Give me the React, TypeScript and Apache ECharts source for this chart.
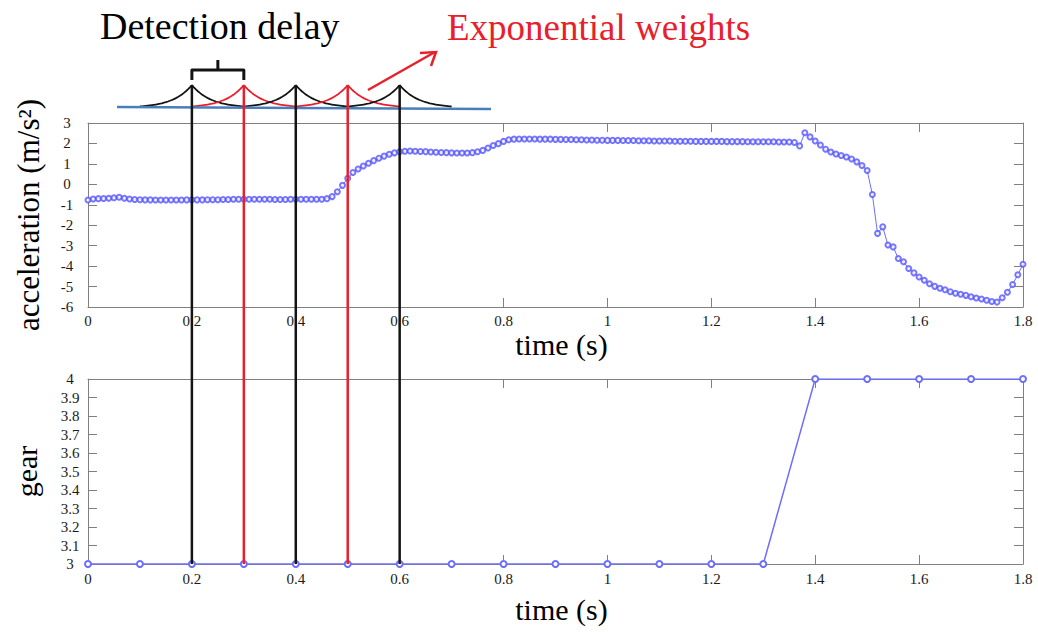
import React, { useEffect, useRef } from 'react';
import * as echarts from 'echarts';

// ---------- data ----------
const ACC_START = 0; // s
const ACC_STEP = 0.01; // s, sampling interval
const accValues = [
  -0.77, -0.72, -0.7, -0.69, -0.68, -0.66, -0.63, -0.68, -0.72, -0.74,
  -0.75, -0.76, -0.76, -0.77, -0.77, -0.77, -0.77, -0.77, -0.77, -0.76,
  -0.76, -0.76, -0.76, -0.75, -0.75, -0.75, -0.74, -0.74, -0.73, -0.73,
  -0.73, -0.73, -0.73, -0.73, -0.73, -0.73, -0.74, -0.74, -0.74, -0.73,
  -0.73, -0.73, -0.73, -0.73, -0.73, -0.73, -0.7, -0.6, -0.36, -0.05,
  0.3, 0.58, 0.75, 0.9, 1.03, 1.16, 1.28, 1.38, 1.47, 1.54,
  1.59, 1.62, 1.63, 1.62, 1.61, 1.6, 1.58, 1.57, 1.56, 1.55,
  1.54, 1.53, 1.53, 1.53, 1.55, 1.59, 1.66, 1.78, 1.9, 1.99,
  2.1, 2.18, 2.21, 2.22, 2.22, 2.22, 2.22, 2.21, 2.21, 2.21,
  2.2, 2.2, 2.19, 2.19, 2.18, 2.18, 2.17, 2.17, 2.16, 2.16,
  2.15, 2.15, 2.15, 2.14, 2.14, 2.14, 2.13, 2.13, 2.13, 2.12,
  2.12, 2.12, 2.12, 2.11, 2.11, 2.11, 2.11, 2.1, 2.1, 2.1,
  2.1, 2.1, 2.1, 2.09, 2.09, 2.09, 2.09, 2.08, 2.08, 2.08,
  2.08, 2.08, 2.08, 2.07, 2.07, 2.07, 2.05, 1.88, 2.52, 2.32,
  2.12, 1.92, 1.72, 1.58, 1.48, 1.41, 1.34, 1.24, 1.1, 0.92,
  0.68, -0.5, -2.4, -2.08, -2.97, -3.06, -3.63, -3.79, -4.12, -4.33,
  -4.53, -4.69, -4.86, -4.99, -5.08, -5.16, -5.25, -5.33, -5.38, -5.43,
  -5.5, -5.56, -5.61, -5.67, -5.73, -5.76, -5.55, -5.28, -4.9, -4.42,
  -3.91,
];

const gearTimes = [0, 0.1, 0.2, 0.3, 0.4, 0.5, 0.6, 0.7, 0.8, 0.9, 1.0, 1.1, 1.2, 1.3, 1.4, 1.5, 1.6, 1.7, 1.8];
const gearValues = [3, 3, 3, 3, 3, 3, 3, 3, 3, 3, 3, 3, 3, 3, 4, 4, 4, 4, 4];

const timeMin = 0;
const timeMax = 1.8;
const timeInterval = 0.2;
const accMin = -6;
const accMax = 3;
const accInterval = 1;
const gearMin = 3;
const gearMax = 4;
const gearInterval = 0.1;

const markerTimes = [0.2, 0.3, 0.4, 0.5, 0.6];
const markerKinds = ['black', 'red', 'black', 'red', 'black'];

const titleDelay = 'Detection delay';
const titleWeights = 'Exponential weights';

// ---------- style ----------
const FONT = 'Liberation Serif';
const GRAY = '#808080';
const RED = '#e8202c';
const BLACK = '#141414';
const BLUE_LINE = '#5555ff';
const BASE_BLUE = '#4a7ebb';

function xAxisDef(gridIndex: number, position: 'top' | 'bottom', opts: any = {}) {
  return {
    type: 'value',
    gridIndex,
    position,
    min: timeMin,
    max: timeMax,
    interval: timeInterval,
    axisLine: { show: true, onZero: false, lineStyle: { color: GRAY, width: 1 } },
    axisTick: { show: true, inside: true, length: 9, lineStyle: { color: GRAY } },
    splitLine: { show: false },
    axisLabel: {
      show: position === 'bottom',
      color: '#1a1a1a',
      fontFamily: FONT,
      fontSize: 15,
      margin: opts.labelMargin ?? 7,
    },
    name: opts.name,
    nameLocation: 'middle',
    nameGap: opts.nameGap,
    nameTextStyle: {
      fontFamily: FONT,
      fontSize: 30,
      color: '#000',
      padding: [0, 0, 0, 12],
    },
  };
}

function yAxisDef(gridIndex: number, position: 'left' | 'right', min: number, max: number, interval: number, opts: any = {}) {
  return {
    type: 'value',
    gridIndex,
    position,
    min,
    max,
    interval,
    axisLine: { show: true, onZero: false, lineStyle: { color: GRAY, width: 1 } },
    axisTick: { show: true, inside: true, length: 9, lineStyle: { color: GRAY } },
    splitLine: { show: false },
    axisLabel: {
      show: position === 'left',
      color: '#1a1a1a',
      fontFamily: FONT,
      fontSize: 15,
      align: 'center',
      margin: opts.labelMargin ?? 20,
    },
    name: opts.name,
    nameLocation: 'middle',
    nameGap: opts.nameGap,
    nameTextStyle: {
      fontFamily: FONT,
      fontSize: opts.nameSize ?? 30,
      color: '#000',
    },
  };
}

export default function App() {
  const ref = useRef<HTMLDivElement>(null);

  useEffect(() => {
    const chart = echarts.init(ref.current!, null, { renderer: 'svg' });

    const accData = accValues.map((v, i) => [
      Math.round((ACC_START + i * ACC_STEP) * 1000) / 1000,
      v,
    ]);
    const gearData = gearTimes.map((t, i) => [t, gearValues[i]]);

    const option: any = {
      animation: false,
      backgroundColor: '#ffffff',
      textStyle: { fontFamily: FONT },
      grid: [
        { left: 88, top: 123, width: 935, height: 184 },
        { left: 88, top: 379, width: 935, height: 185 },
      ],
      xAxis: [
        xAxisDef(0, 'bottom', { name: 'time (s)', nameGap: 22, labelMargin: 6 }),
        xAxisDef(0, 'top'),
        xAxisDef(1, 'bottom', { name: 'time (s)', nameGap: 30, labelMargin: 7 }),
        xAxisDef(1, 'top'),
      ],
      yAxis: [
        yAxisDef(0, 'left', accMin, accMax, accInterval, {
          name: 'acceleration (m/s²)',
          nameGap: 44,
          labelMargin: 21,
          nameSize: 31,
        }),
        yAxisDef(0, 'right', accMin, accMax, accInterval),
        yAxisDef(1, 'left', gearMin, gearMax, gearInterval, {
          name: 'gear',
          nameGap: 47,
          labelMargin: 18,
        }),
        yAxisDef(1, 'right', gearMin, gearMax, gearInterval),
      ],
      series: [
        {
          type: 'line',
          xAxisIndex: 0,
          yAxisIndex: 0,
          data: accData,
          symbol: 'emptyCircle',
          symbolSize: 5,
          lineStyle: { color: BLUE_LINE, width: 1, opacity: 0.85 },
          itemStyle: { color: BLUE_LINE, borderColor: BLUE_LINE, borderWidth: 1.1, opacity: 0.8 },
          z: 3,
        },
        {
          type: 'line',
          xAxisIndex: 2,
          yAxisIndex: 2,
          data: gearData,
          symbol: 'emptyCircle',
          symbolSize: 6,
          lineStyle: { color: '#6d6dff', width: 1.5 },
          itemStyle: { color: '#6d6dff', borderColor: '#6d6dff', borderWidth: 1.2 },
          z: 3,
        },
      ],
    };

    chart.setOption(option);

    // ---------- annotations (positions derived from the axes) ----------
    const peakY = 85;
    const baseY = 108;
    const xs = markerTimes.map((t) => chart.convertToPixel({ xAxisIndex: 0 }, t) as number);
    const yBottom = chart.convertToPixel({ yAxisIndex: 2 }, gearMin) as number;
    const colorOf = (k: string) => (k === 'red' ? RED : BLACK);

    const elements: any[] = [];

    // exponential weight cusps
    const span = 52;
    const k = 19;
    xs.forEach((xp, i) => {
      const c = colorOf(markerKinds[i]);
      [-1, 1].forEach((dir) => {
        const pts: number[][] = [];
        for (let d = 0; d <= span; d += 2) {
          pts.push([xp + dir * d, baseY - (baseY - peakY) * Math.exp(-d / k)]);
        }
        elements.push({
          type: 'polyline',
          shape: { points: pts },
          style: { stroke: c, lineWidth: 1.8, fill: null },
          z: 10,
          silent: true,
        });
      });
    });

    // baseline
    elements.push({
      type: 'line',
      shape: { x1: 117, y1: 107, x2: 491, y2: 109 },
      style: { stroke: BASE_BLUE, lineWidth: 2.5 },
      z: 11,
      silent: true,
    });

    // vertical marker lines
    xs.forEach((xp, i) => {
      elements.push({
        type: 'line',
        shape: { x1: xp, y1: peakY, x2: xp, y2: yBottom },
        style: { stroke: colorOf(markerKinds[i]), lineWidth: 2.5 },
        z: 12,
        silent: true,
      });
    });

    // bracket between first two markers
    const bx1 = xs[0];
    const bx2 = xs[1];
    const bmid = (bx1 + bx2) / 2;
    elements.push({
      type: 'polyline',
      shape: { points: [[bx1, 80], [bx1, 70], [bx2, 70], [bx2, 80]] },
      style: { stroke: BLACK, lineWidth: 3, fill: null, lineJoin: 'round' },
      z: 12,
      silent: true,
    });
    elements.push({
      type: 'line',
      shape: { x1: bmid, y1: 70, x2: bmid, y2: 60 },
      style: { stroke: BLACK, lineWidth: 3 },
      z: 12,
      silent: true,
    });

    // red arrow
    elements.push({
      type: 'line',
      shape: { x1: 368, y1: 90, x2: 435, y2: 52 },
      style: { stroke: RED, lineWidth: 2.5 },
      z: 12,
      silent: true,
    });
    elements.push({
      type: 'polyline',
      shape: { points: [[420, 53], [436, 52], [431, 66]] },
      style: { stroke: RED, lineWidth: 2.5, fill: null },
      z: 12,
      silent: true,
    });

    // texts
    elements.push({
      type: 'text',
      x: 100,
      y: 26,
      style: {
        text: titleDelay,
        fontFamily: FONT,
        fontSize: 38,
        fill: '#000',
        verticalAlign: 'middle',
        align: 'left',
      },
      z: 12,
      silent: true,
    });
    elements.push({
      type: 'text',
      x: 447,
      y: 27,
      style: {
        text: titleWeights,
        fontFamily: FONT,
        fontSize: 37,
        fill: RED,
        verticalAlign: 'middle',
        align: 'left',
      },
      z: 12,
      silent: true,
    });

    chart.setOption({ graphic: { elements } });

    return () => chart.dispose();
  }, []);

  return (
    <div
      ref={ref}
      style={{ position: 'fixed', left: 0, top: 0, width: 1038, height: 633, background: '#fff' }}
    />
  );
}
